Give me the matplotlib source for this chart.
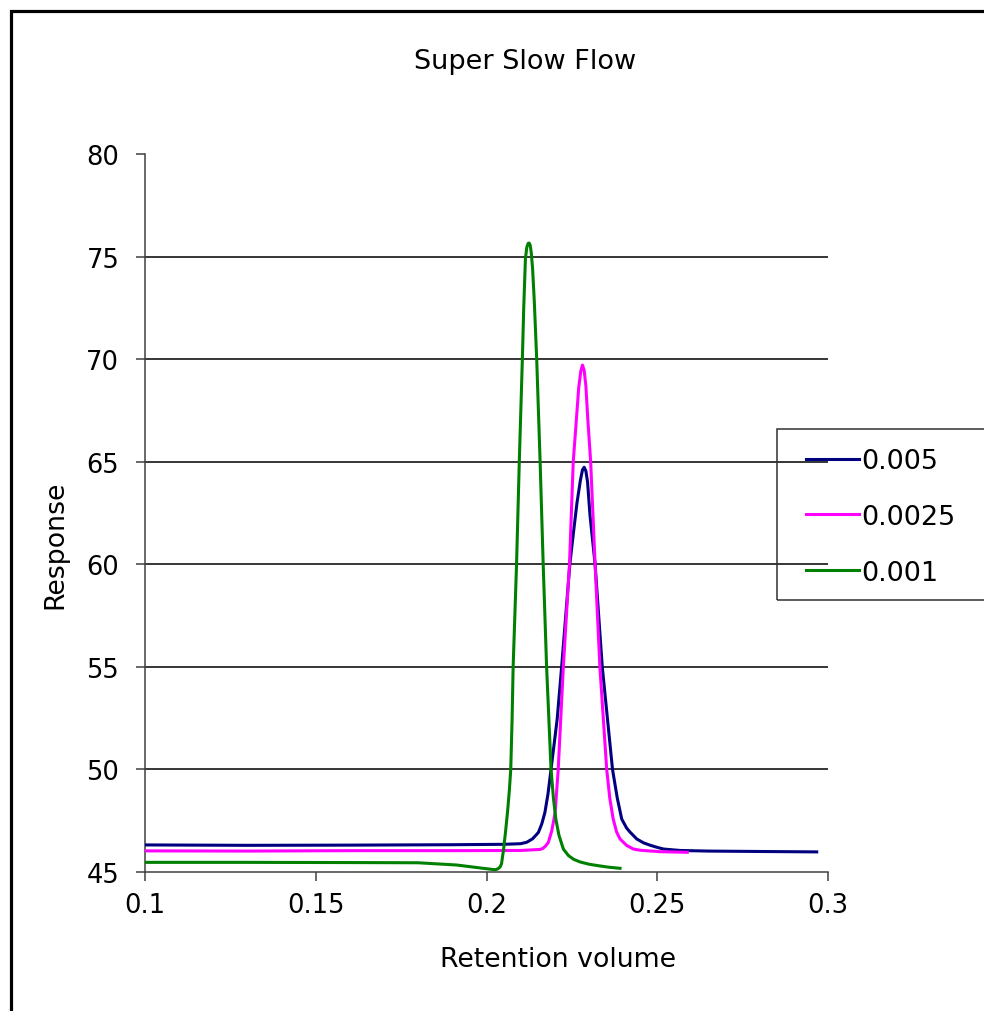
import matplotlib
matplotlib.use("Agg")
import matplotlib.pyplot as plt
from matplotlib.patches import Rectangle

# values
x_005 = [0.100, 0.130, 0.160, 0.190, 0.205, 0.2100, 0.2118, 0.2135, 0.2145, 0.2152, 0.2162,
         0.2171, 0.2180, 0.2189, 0.2207, 0.2220, 0.2232, 0.2244, 0.2255, 0.2265, 0.2275,
         0.2281, 0.2286, 0.2291, 0.2296, 0.2303, 0.2318, 0.2339, 0.2369, 0.2383, 0.2396,
         0.2410, 0.2420, 0.2440, 0.2460, 0.2480, 0.2500, 0.2518, 0.2567, 0.2650, 0.2800, 0.2967]
y_005 = [46.32, 46.30, 46.31, 46.33, 46.35, 46.38, 46.45, 46.62, 46.80, 46.93, 47.35,
         47.90, 48.80, 50.00, 52.46, 55.00, 57.49, 60.00, 61.60, 63.00, 64.10,
         64.60, 64.73, 64.55, 64.00, 62.40, 60.00, 55.00, 50.00, 48.60, 47.58,
         47.15, 46.95, 46.61, 46.42, 46.30, 46.20, 46.12, 46.05, 46.02, 46.00, 45.98]

x_0025 = [0.100, 0.130, 0.160, 0.190, 0.210, 0.2157, 0.2165, 0.2172, 0.2181, 0.2191, 0.2201,
          0.2210, 0.2225, 0.2243, 0.2254, 0.2264, 0.2270, 0.2276, 0.2281, 0.2286, 0.2291,
          0.2296, 0.2305, 0.2318, 0.2332, 0.2352, 0.2361, 0.2371, 0.2381, 0.2391, 0.2410,
          0.2430, 0.2450, 0.2508, 0.2588]
y_0025 = [46.03, 46.02, 46.04, 46.04, 46.05, 46.10, 46.15, 46.25, 46.44, 47.00, 47.90,
          50.00, 55.00, 60.00, 65.00, 67.24, 68.60, 69.40, 69.71, 69.45, 68.70,
          67.24, 65.00, 60.00, 55.00, 50.00, 48.60, 47.58, 46.95, 46.61, 46.30,
          46.12, 46.06, 45.99, 45.96]

x_001 = [0.100, 0.130, 0.160, 0.180, 0.1913, 0.1990, 0.2010, 0.2025, 0.2033, 0.2040, 0.2044,
         0.2050, 0.2056, 0.2062, 0.2067, 0.2071, 0.2075, 0.2078, 0.2088, 0.2096, 0.2105,
         0.2109, 0.2114, 0.2118, 0.2122, 0.2125, 0.2128, 0.2131, 0.2135, 0.2140, 0.2147,
         0.2157, 0.2166, 0.2176, 0.2189, 0.2196, 0.2203, 0.2212, 0.2225, 0.2240, 0.2255,
         0.2274, 0.2300, 0.2330, 0.2360, 0.2391]
y_001 = [45.47, 45.47, 45.46, 45.45, 45.34, 45.18, 45.14, 45.11, 45.15, 45.25, 45.40,
         46.10, 47.00, 48.00, 49.00, 50.00, 52.50, 55.00, 60.00, 65.00, 70.00,
         72.50, 74.90, 75.45, 75.64, 75.66, 75.55, 75.20, 74.40, 72.80, 70.00,
         65.00, 60.00, 55.00, 50.00, 48.60, 47.58, 46.80, 46.12, 45.80, 45.62,
         45.49, 45.38, 45.30, 45.23, 45.18]

labels = ["0.005", "0.0025", "0.001"]
colors = ["#000080", "#FF00FF", "#008000"]
xticks = [0.1, 0.15, 0.2, 0.25, 0.3]
yticks = [45, 50, 55, 60, 65, 70, 75, 80]

plt.rcParams["font.family"] = "DejaVu Sans"
fig = plt.figure(figsize=(9.84, 10.12), dpi=100)
ax = fig.add_axes([145/984, 1-873/1012, 683/984, 718/1012])

# gridlines except the top one
for yv in yticks[1:-1]:
    ax.axhline(yv, color="black", lw=1.1, zorder=1)

lines = []
for xs, ys, c, lab in zip([x_005, x_0025, x_001], [y_005, y_0025, y_001], colors, labels):
    l, = ax.plot(xs, ys, color=c, lw=2.2, label=lab, zorder=3, solid_joinstyle="round")
    lines.append(l)

ax.set_xlim(0.1, 0.3)
ax.set_ylim(45, 80)
ax.set_xticks(xticks)
ax.set_xticklabels(["0.1", "0.15", "0.2", "0.25", "0.3"])
ax.set_yticks(yticks)
for s in ["top", "right"]:
    ax.spines[s].set_visible(False)
for s in ["left", "bottom"]:
    ax.spines[s].set_color("#404040")
    ax.spines[s].set_linewidth(1.1)
ax.tick_params(axis="both", direction="out", length=6.5, width=1.1, color="#404040", labelsize=18.5)
ax.tick_params(axis="y", pad=12)
ax.tick_params(axis="x", pad=8)

fig.text(525/984, 1-62/1012, "Super Slow Flow", ha="center", va="center", fontsize=19.5)
fig.text(558/984, 1-960/1012, "Retention volume", ha="center", va="center", fontsize=19.3)
fig.text(55/984, 1-545/1012, "Response", ha="center", va="center", rotation=90, fontsize=19.3)

# legend box runs off the right edge
fig.patches.append(Rectangle((777/984, 1-601/1012), 240/984, 171/1012, transform=fig.transFigure,
                             fill=False, edgecolor="#303030", lw=1.1, clip_on=False))
fig.legend(lines, labels, loc="upper left", bbox_to_anchor=(806/984, 1-449/1012),
           frameon=False, fontsize=19.5, handlelength=1.95, handletextpad=0.1,
           labelspacing=1.1, borderpad=0, borderaxespad=0)

# outer chart border, only left and top edges visible
fig.patches.append(Rectangle((10.5/984, -0.2), 1.2, 1.2 - 11.5/1012, transform=fig.transFigure,
                             fill=False, edgecolor="black", lw=2.3, clip_on=False))

fig.savefig("out.png", dpi=100)
